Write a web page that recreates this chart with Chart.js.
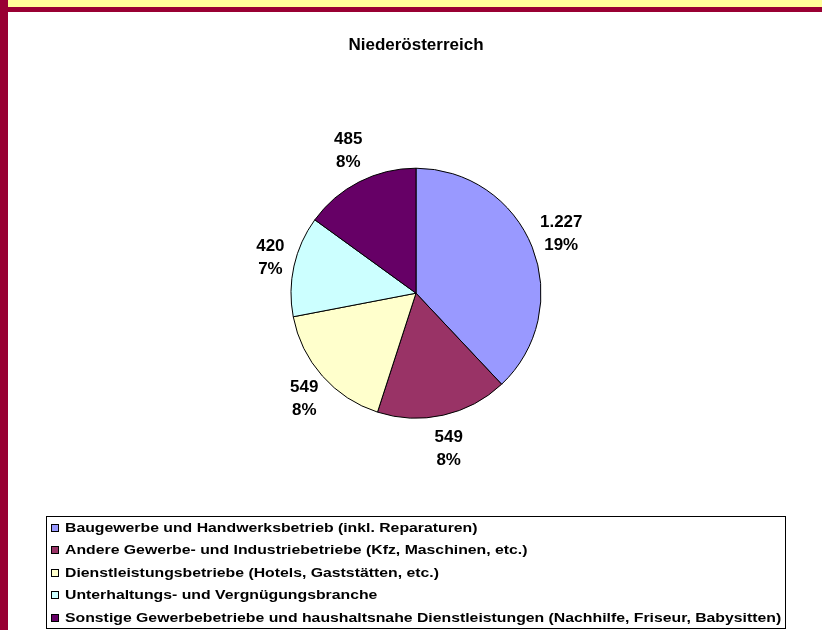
<!DOCTYPE html>
<html>
<head>
<meta charset="utf-8">
<script src="https://cdn.jsdelivr.net/npm/chart.js@4"></script>
<style>
    html, body { margin: 0; padding: 0; background: #fff; }
    #wrap { position: relative; width: 822px; height: 630px; }
</style>
</head>
<body>
<div id="wrap"><canvas id="pie_plot" width="822" height="630"></canvas></div>
<script>
// Daten
const categories = [
    'Baugewerbe und Handwerksbetrieb (inkl. Reparaturen)',
    'Andere Gewerbe- und Industriebetriebe (Kfz, Maschinen, etc.)',
    'Dienstleistungsbetriebe (Hotels, Gaststätten, etc.)',
    'Unterhaltungs- und Vergnügungsbranche',
    'Sonstige Gewerbebetriebe und haushaltsnahe Dienstleistungen (Nachhilfe, Friseur, Babysitten)'
];
const values = [1227, 549, 549, 420, 485];
const valueLabels = ['1.227', '549', '549', '420', '485'];
const percentLabels = ['19%', '8%', '8%', '7%', '8%'];
const colors = ['#9999FF', '#993366', '#FFFFCC', '#CCFFFF', '#660066'];

const FONT = '"Liberation Sans", Arial, sans-serif';

// Rahmen (gelb / weinrot) hinter dem Diagramm
const framePlugin = {
    id: 'frame',
    beforeDraw(chart) {
        const ctx = chart.ctx;
        ctx.save();
        ctx.fillStyle = '#ffffff';
        ctx.fillRect(0, 0, chart.width, chart.height);
        ctx.fillStyle = '#FFFF99';
        ctx.fillRect(0, 0, chart.width, 7);
        ctx.fillStyle = '#990033';
        ctx.fillRect(0, 7, chart.width, 5);
        ctx.fillRect(0, 0, 8, chart.height);
        ctx.restore();
    }
};

// Beschriftung ausserhalb der Segmente
const outsideLabels = {
    id: 'outsideLabels',
    afterDatasetsDraw(chart) {
        const ctx = chart.ctx;
        const meta = chart.getDatasetMeta(0);
        ctx.save();
        ctx.font = 'bold 16px ' + FONT;
        ctx.fillStyle = '#000';
        ctx.textBaseline = 'middle';
        meta.data.forEach((arc, i) => {
            const p = arc.getProps(['x', 'y', 'startAngle', 'endAngle', 'outerRadius'], true);
            const a = (p.startAngle + p.endAngle) / 2;
            const w = Math.max(ctx.measureText(valueLabels[i]).width, ctx.measureText(percentLabels[i]).width) * 1.06;
            const h = 50;
            const gap = 10;
            const cx = p.x + Math.cos(a) * (p.outerRadius + gap + w / 2);
            const cy = p.y + Math.sin(a) * (p.outerRadius + gap + h / 2);
            // leicht breitere Schrift wie im Original
            ctx.save();
            ctx.translate(cx, cy);
            ctx.scale(1.06, 1);
            ctx.textAlign = 'center';
            ctx.fillText(valueLabels[i], 0, -11.5);
            ctx.fillText(percentLabels[i], 0, 11.5);
            ctx.restore();
        });
        ctx.restore();
    }
};

// Legende im Kasten unten
const boxLegend = {
    id: 'boxLegend',
    afterDraw(chart) {
        const ctx = chart.ctx;
        ctx.save();
        ctx.strokeStyle = '#000';
        ctx.lineWidth = 1;
        ctx.strokeRect(46.5, 516.5, 739, 112);
        ctx.font = 'bold 13px ' + FONT;
        ctx.textBaseline = 'middle';
        ctx.textAlign = 'left';
        categories.forEach((c, i) => {
            const y = 528 + i * 22.4;
            ctx.fillStyle = colors[i];
            ctx.fillRect(51, Math.round(y) - 4, 8, 8);
            ctx.strokeStyle = '#000';
            ctx.strokeRect(51.5, Math.round(y) - 3.5, 7, 7);
            ctx.save();
            ctx.translate(65, y + 0.5);
            ctx.scale(1.215, 1);
            ctx.fillStyle = '#000';
            ctx.fillText(c, 0, 0);
            ctx.restore();
        });
        ctx.restore();
    }
};

const ctxPie = new Chart(document.getElementById('pie_plot').getContext('2d'), {
    type: 'pie',
    data: {
        labels: categories,
        datasets: [{
            data: values,
            backgroundColor: colors,
            borderColor: '#000',
            borderWidth: 1,
            hoverBorderWidth: 1,
            hoverOffset: 0
        }]
    },
    options: {
        responsive: false,
        animation: false,
        radius: 125,
        layout: {
            padding: { left: 100, right: 90, top: 0, bottom: 174 }
        },
        plugins: {
            legend: { display: false },
            tooltip: { enabled: false },
            title: {
                display: true,
                text: 'Niederösterreich',
                color: '#000',
                font: { family: FONT, size: 17, weight: 'bold' },
                padding: { top: 35, bottom: 75 }
            }
        }
    },
    plugins: [framePlugin, outsideLabels, boxLegend]
});
</script>
</body>
</html>
